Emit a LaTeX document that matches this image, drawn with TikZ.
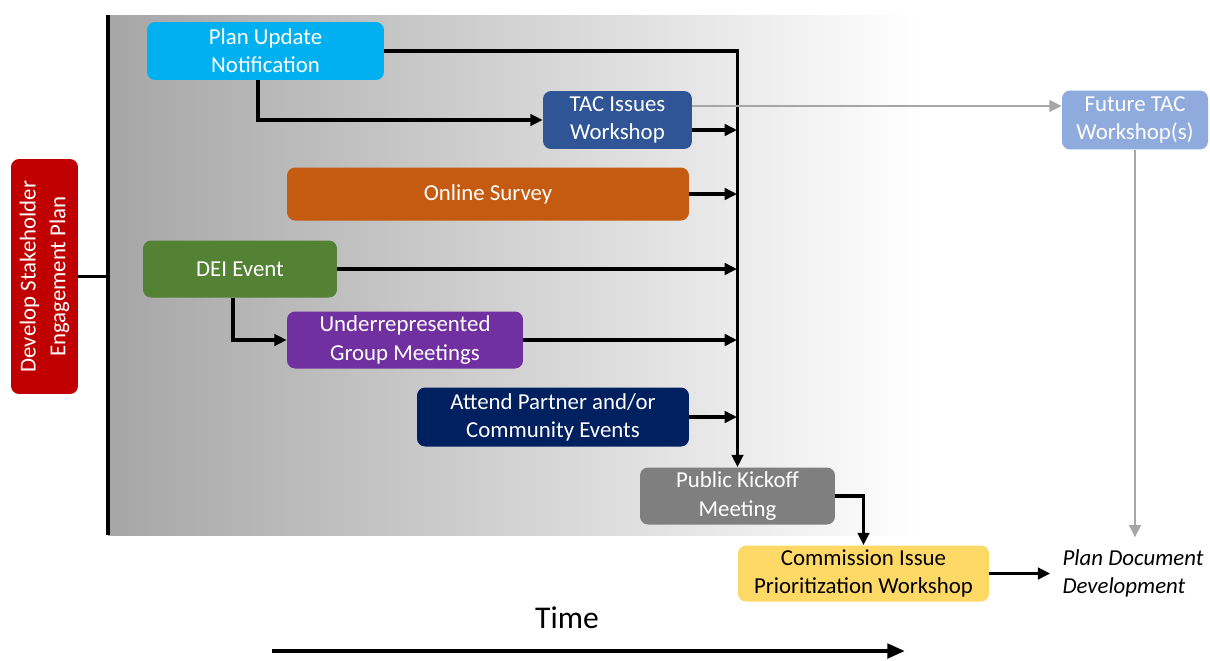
\documentclass[tikz,border=0pt]{standalone}
\usepackage{fontspec}
\setmainfont{Carlito}
\usetikzlibrary{arrows.meta}

\definecolor{planBlue}{HTML}{00B0F0}
\definecolor{tacBlue}{HTML}{2F5597}
\definecolor{futureBlue}{HTML}{8FAADC}
\definecolor{surveyOrange}{HTML}{C55A11}
\definecolor{deiGreen}{HTML}{548235}
\definecolor{groupPurple}{HTML}{7030A0}
\definecolor{partnerNavy}{HTML}{002060}
\definecolor{kickoffGray}{HTML}{7F7F7F}
\definecolor{commissionYellow}{HTML}{FFD966}
\definecolor{stakeholderRed}{HTML}{C00000}
\definecolor{fadeGray}{HTML}{A6A6A6}

\begin{document}
\begin{tikzpicture}[x=0.02cm,y=-0.02cm,%%
  boxStyle/.style={rounded corners=0.16cm,inner sep=0pt,align=center,text=white},%%
  lineStyle/.style={-,line width=1.9pt},%%
  arrowStyle/.style={-{Triangle[length=7pt,width=6.5pt]},line width=1.9pt},%%
  greyArrowStyle/.style={-{Triangle[length=7pt,width=6.5pt]},line width=1.6pt,draw=fadeGray}%%
]
%%
%%
\pgfmathsetmacro{\xline}{108}
\pgfmathsetmacro{\xmerge}{737}
\pgfmathsetmacro{\ytop}{15}
\pgfmathsetmacro{\ybottom}{535}
%%
\useasboundingbox (0,0) rectangle (1210,660);
\coordinate (lineTop) at (\xline,\ytop);
\coordinate (lineBottom) at (\xline,\ybottom);
\coordinate (mergeTop) at (\xmerge,50);
%%
\fontsize{13}{16}\selectfont
%% Shade the planning period.
\shade[left color=fadeGray,right color=white] (lineTop) rectangle (920,\ybottom);
\draw[lineStyle] (lineTop) -- (lineBottom);
%%
%% The engagement activities.
\node[boxStyle,fill=stakeholderRed,rotate=90,minimum width=4.7cm,minimum height=1.34cm]
  (stakeholder) at (44.5,276.5) {Develop Stakeholder\\[1pt]Engagement Plan};
\node[boxStyle,fill=planBlue,minimum width=4.74cm,minimum height=1.16cm]
  (planUpdate) at (265.5,51) {Plan Update\\Notification};
\node[boxStyle,fill=tacBlue,minimum width=2.98cm,minimum height=1.16cm]
  (tacIssues) at (617.5,120) {TAC Issues\\Workshop};
\node[boxStyle,fill=futureBlue,minimum width=2.92cm,minimum height=1.18cm]
  (futureTac) at (1135,120) {Future TAC\\Workshop(s)};
\node[boxStyle,fill=surveyOrange,minimum width=8.04cm,minimum height=1.06cm]
  (onlineSurvey) at (488,194) {Online Survey};
\node[boxStyle,fill=deiGreen,minimum width=3.88cm,minimum height=1.14cm]
  (deiEvent) at (240,269) {DEI Event};
\node[boxStyle,fill=groupPurple,minimum width=4.72cm,minimum height=1.14cm]
  (underrep) at (405,340) {Underrepresented\\Group Meetings};
\node[boxStyle,fill=partnerNavy,minimum width=5.44cm,minimum height=1.18cm]
  (partnerEvents) at (553,417) {Attend Partner and/or\\Community Events};
\node[boxStyle,fill=kickoffGray,minimum width=3.9cm,minimum height=1.14cm]
  (kickoff) at (737.5,496) {Public Kickoff\\Meeting};
\node[boxStyle,fill=commissionYellow,text=black,minimum width=5.02cm,minimum height=1.12cm]
  (commission) at (863.5,573.5) {Commission Issue\\Prioritization Workshop};
\node[align=left,inner sep=0.24cm,font=\itshape]
  (planDoc) at (1133,573.5) {Plan Document\\Development};
%%
%% Connect the activities.
\draw[lineStyle] (stakeholder.south) -- (stakeholder.south -| lineTop);
\draw[arrowStyle] (planUpdate.east) -| (kickoff.north);
\draw[arrowStyle] ([xshift=-0.15cm]planUpdate.south) |- (tacIssues.west);
\draw[arrowStyle] ([yshift=-0.2cm]tacIssues.east) -- ([yshift=-0.2cm]tacIssues.east -| mergeTop);
\draw[greyArrowStyle] ([yshift=0.28cm]tacIssues.east) -- ([yshift=0.28cm]tacIssues.east -| futureTac.west);
\draw[arrowStyle] (onlineSurvey.east) -- (onlineSurvey.east -| mergeTop);
\draw[arrowStyle] (deiEvent.east) -- (deiEvent.east -| mergeTop);
\draw[arrowStyle] ([xshift=-0.14cm]deiEvent.south) |- (underrep.west);
\draw[arrowStyle] (underrep.east) -- (underrep.east -| mergeTop);
\draw[arrowStyle] (partnerEvents.east) -- (partnerEvents.east -| mergeTop);
\draw[arrowStyle] (kickoff.east) -| (commission.north);
\draw[arrowStyle] (commission.east) -- (planDoc.west);
\draw[greyArrowStyle] (futureTac.south) -- (futureTac.south |- planDoc.north);
%%
%% Label the time axis.
\coordinate (timeStart) at (272,651);
\coordinate (timeEnd) at (905,651);
\node[font=\fontsize{18}{22}\selectfont] (timeLabel) at (567,618) {Time};
\draw[-{Triangle[length=10pt,width=8pt]},line width=2.8pt] (timeStart) -- (timeEnd);
\end{tikzpicture}
\end{document}
